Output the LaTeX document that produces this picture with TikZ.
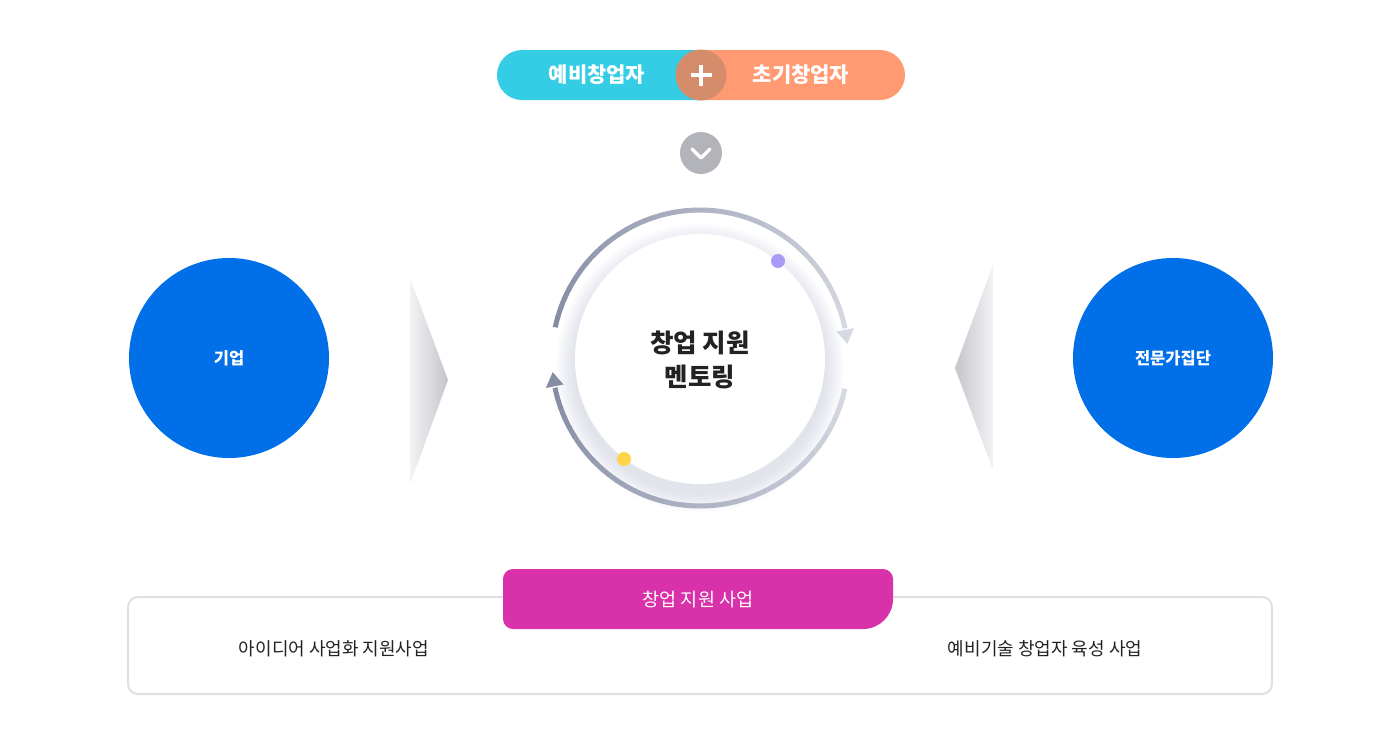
\documentclass[tikz,border=0pt]{standalone}
\usepackage{fontspec}
\setmainfont{Noto Sans CJK KR}
\usetikzlibrary{positioning}
\definecolor{pillcyan}{HTML}{35CDE6}
\definecolor{pillorange}{HTML}{FF9A72}
\definecolor{plusbrown}{HTML}{D48C6A}
\definecolor{chevgray}{HTML}{B3B4B9}
\definecolor{corpblue}{HTML}{006FE8}
\definecolor{ringdark}{HTML}{848DA4}
\definecolor{ringlight}{HTML}{D6D9E2}
\definecolor{ringshadow}{HTML}{B8BCD6}
\definecolor{dotpurple}{HTML}{A89BF6}
\definecolor{dotyellow}{HTML}{FFD449}
\definecolor{tabpink}{HTML}{D831AA}
\definecolor{boxline}{HTML}{E0E0E2}
\definecolor{textdark}{HTML}{222222}
\definecolor{triangdark}{HTML}{C4C5CB}
\definecolor{trianglight}{HTML}{F3F3F5}
\newcommand{\ringarc}[2]{\foreach \i in {0,...,38}{
					\pgfmathsetmacro{\ang}{-168+\i*4}
					\pgfmathsetmacro{\angend}{\ang+4.4}
					\pgfmathtruncatemacro{\p}{\i*100/38}
					\draw[line width=5, color=#2!\p!#1] (\ang:148) arc (\ang:\angend:148);}
					\fill[#2] (-11:139) -- (-11:157) -- (-5.5:148) -- cycle;}

\begin{document}
\begin{tikzpicture}[x=1pt, y=-1pt,
	pilltext/.style={text=white, font=\bfseries\fontsize{21}{24}\selectfont},
	bluecirc/.style={circle, fill=corpblue, minimum size=200, inner sep=0, text=white, font=\bfseries\fontsize{16.5}{20}\selectfont},
	infotext/.style={text=textdark, font=\fontsize{18}{22}\selectfont}]

					\fill[white] (0,0) rectangle (1400,740);

					\fill[pillcyan, rounded corners=25] (497,50) rectangle (726,100);
					\fill[pillorange, rounded corners=25] (676,50) rectangle (905,100);
					\node[circle, fill=plusbrown, minimum size=51, inner sep=0] (plus) at (701,75) {};
					\draw[white, line width=3.2] ([xshift=-10.5]plus.center) -- ([xshift=10.5]plus.center);
					\draw[white, line width=3.2] ([yshift=-10.5]plus.center) -- ([yshift=10.5]plus.center);
					\node[pilltext] (pre) at (597,75) {예비창업자};
					\node[pilltext] (early) at (801,75) {초기창업자};

					\node[circle, fill=chevgray, minimum size=42, inner sep=0] (down) at (701,153) {};
					\draw[white, line width=3.5, line cap=round, line join=round] ([xshift=-9, yshift=4]down.center) -- ([yshift=-5]down.center) -- ([xshift=9, yshift=4]down.center);

					\node[bluecirc] (corp) at (229,358) {기업};
					\node[bluecirc] (expert) at (1173,358) {전문가집단};

					\shade[left color=trianglight, right color=triangdark] (410,278) -- (448,380) -- (410,484) -- cycle;
					\shade[left color=triangdark, right color=trianglight] (993,265) -- (955,368) -- (993,470) -- cycle;

					\foreach \k in {1,...,10}
						\fill[ringshadow, opacity=0.045] (700,368) circle ({124+\k*2});
					\fill[white] (700,359) circle (125);

					\begin{scope}[shift={(700,358)}]
						\ringarc{ringdark}{ringlight}
					\end{scope}

					\begin{scope}[shift={(700,358)}, rotate=180]
						\ringarc{ringlight}{ringdark}
					\end{scope}

					\fill[dotpurple] (778,261) circle (7);
					\fill[dotyellow] (624,459) circle (7);

					\node[align=center, text=textdark, font=\bfseries\fontsize{25.5}{34}\selectfont] (mentor) at (700,360) {창업 지원\\멘토링};

					\node[draw=boxline, line width=2, rounded corners=10, minimum width=1144, minimum height=97] (programs) at (700,645.5) {};
					\fill[tabpink] (513,569) -- (883,569) arc (-90:0:10) -- (893,599) arc (0:90:30) -- (513,629) arc (90:180:10) -- (503,579) arc (180:270:10) -- cycle;
					\node[text=white, font=\fontsize{18.5}{22}\selectfont] (support) at (698,600) {창업 지원 사업};
					\node[infotext] (idea) at (334,649) {아이디어 사업화 지원사업};
					\node[infotext] (tech) at (1045,649) {예비기술 창업자 육성 사업};

				\end{tikzpicture}
\end{document}
